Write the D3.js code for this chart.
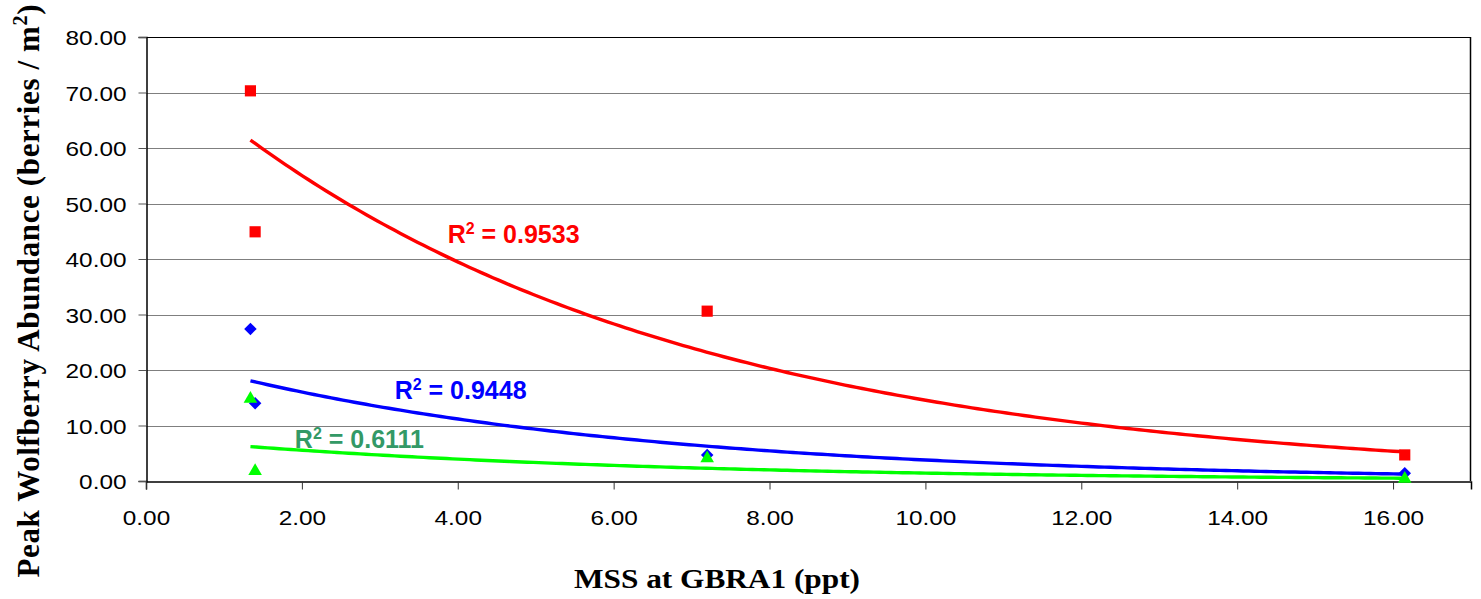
<!DOCTYPE html>
<html>
<head>
<meta charset="utf-8">
<script src="https://cdn.jsdelivr.net/npm/d3@7"></script>
<style>
  body { margin: 0; background: #fff; }
  .tick text { font-family: "Liberation Sans", Arial, sans-serif; font-size: 21px; fill: #000; }
</style>
</head>
<body>
<div id="chart"></div>
<script>
// MSS (ppt) at each station, and peak wolfberry abundance per series
var mss = [1.34, 1.40, 7.20, 16.15];
var redValues = [70.3, 44.9, 30.6, 4.7];
var blueValues = [27.4, 14.0, 4.7, 1.4];
var greenValues = [14.8, 1.8, 4.1, 0.4];
var r2Labels = ["0.9533", "0.9448", "0.6111"];
var xTicks = [0, 2, 4, 6, 8, 10, 12, 14, 16];
var yTicks = [0, 10, 20, 30, 40, 50, 60, 70, 80];

function drawChart(){
    var width = 1481,
        height = 599;
    var margin = {left: 146, right: 10, top: 37, bottom: 118};
    var stretch = 1.16; // text in the original is drawn a bit wide

    var svg = d3.select("#chart").append("svg")
        .attr("width", width)
        .attr("height", height);

    var x = d3.scaleLinear().domain([0, 17]).range([margin.left, width - margin.right]);
    var y = d3.scaleLinear().domain([0, 80]).range([height - margin.bottom, margin.top]);

    // gridlines
    svg.append("g")
        .selectAll("line")
        .data(yTicks.slice(1))
        .enter().append("line")
        .attr("x1", x(0)).attr("x2", x(17))
        .attr("y1", function(d){ return Math.round(y(d)) + 0.5; })
        .attr("y2", function(d){ return Math.round(y(d)) + 0.5; })
        .style("stroke", function(d){ return d == 80 ? "#000" : "#7f7f7f"; })
        .style("stroke-width", 1.2);

    // right border
    svg.append("line")
        .attr("x1", x(17) - 0.5).attr("x2", x(17) - 0.5)
        .attr("y1", y(80)).attr("y2", y(0))
        .style("stroke", "#000").style("stroke-width", 1.5);

    var xAxis = svg.append("g")
        .attr("transform", "translate(0," + (Math.round(y(0)) + 0.5) + ")")
        .call(d3.axisBottom(x).tickValues(xTicks).tickFormat(d3.format(".2f")).tickSizeOuter(0).tickSize(8).tickPadding(21));
    xAxis.select(".domain").style("stroke", "#000").style("stroke-width", 1.5);
    xAxis.selectAll(".tick line").style("stroke", "#333");
    xAxis.selectAll(".tick text").attr("transform", "scale(" + stretch + ",1)");

    var yAxis = svg.append("g")
        .attr("transform", "translate(" + (Math.round(x(0)) + 0.5) + ",0)")
        .call(d3.axisLeft(y).tickValues(yTicks).tickFormat(d3.format(".2f")).tickSizeOuter(0).tickSize(8));
    yAxis.select(".domain").style("stroke", "#000").style("stroke-width", 1.5);
    yAxis.selectAll(".tick line").style("stroke", "#555");
    yAxis.selectAll(".tick text")
        .attr("x", -20 / stretch)
        .attr("dy", "0.36em")
        .attr("transform", "scale(" + stretch + ",1)");

    // exponential trendline fit (least squares on ln y), like Excel
    function expFit(xs, ys){
        var ly = ys.map(Math.log);
        var mx = d3.mean(xs), my = d3.mean(ly);
        var sxy = 0, sxx = 0;
        xs.forEach(function(v, i){ sxy += (v - mx) * (ly[i] - my); sxx += (v - mx) * (v - mx); });
        var b = sxy / sxx;
        var a = Math.exp(my - b * mx);
        return function(t){ return a * Math.exp(b * t); };
    }

    var diamond = {
        draw: function(ctx, size){
            var r = Math.sqrt(size / 2);
            ctx.moveTo(0, -r); ctx.lineTo(r, 0); ctx.lineTo(0, r); ctx.lineTo(-r, 0); ctx.closePath();
        }
    };

    var series = [
        {values: redValues, color: "#ff0000", labelColor: "#ff0000", symbol: d3.symbolSquare, size: 125, label: r2Labels[0], lx: 3.87, ly: 42.9},
        {values: blueValues, color: "#0000ff", labelColor: "#0000ff", symbol: diamond, size: 78, label: r2Labels[1], lx: 3.19, ly: 14.8},
        {values: greenValues, color: "#00ff00", labelColor: "#339966", symbol: d3.symbolTriangle, size: 80, label: r2Labels[2], lx: 1.91, ly: 5.95}
    ];

    var line = d3.line()
        .x(function(d){ return x(d[0]); })
        .y(function(d){ return y(d[1]); });

    series.forEach(function(s){
        var f = expFit(mss, s.values);
        var x0 = d3.min(mss), x1 = d3.max(mss);
        var pts = d3.range(0, 201).map(function(i){
            var t = x0 + (x1 - x0) * i / 200;
            return [t, f(t)];
        });
        svg.append("path")
            .datum(pts)
            .attr("d", line)
            .attr("fill", "none")
            .style("stroke", s.color)
            .style("stroke-width", 3.4);
    });

    series.forEach(function(s){
        svg.append("g")
            .selectAll("path")
            .data(s.values)
            .enter().append("path")
            .attr("d", d3.symbol().type(s.symbol).size(s.size))
            .attr("transform", function(d, i){ return "translate(" + x(mss[i]) + "," + y(d) + ")"; })
            .attr("fill", s.color);
    });

    // R^2 labels
    series.forEach(function(s){
        var t = svg.append("text")
            .attr("x", x(s.lx)).attr("y", y(s.ly))
            .style("font-family", "'Liberation Sans', Arial, sans-serif")
            .style("font-weight", "bold")
            .style("font-size", "25px")
            .attr("fill", s.labelColor);
        t.append("tspan").text("R");
        t.append("tspan").text("2").attr("dy", -9).style("font-size", "16px");
        t.append("tspan").text(" = " + s.label).attr("dy", 9);
    });

    // axis titles
    svg.append("text")
        .attr("transform", "translate(717,588) scale(" + stretch + ",1)")
        .attr("text-anchor", "middle")
        .style("font-family", "'Liberation Serif', 'Times New Roman', serif")
        .style("font-weight", "bold")
        .style("font-size", "27px")
        .text("MSS at GBRA1 (ppt)");

    var yt = svg.append("text")
        .attr("transform", "translate(39,291) rotate(-90)")
        .attr("text-anchor", "middle")
        .attr("textLength", 573)
        .attr("lengthAdjust", "spacing")
        .style("font-family", "'Liberation Serif', 'Times New Roman', serif")
        .style("font-weight", "bold")
        .style("font-size", "31px");
    yt.append("tspan").text("Peak Wolfberry Abundance (berries / m");
    yt.append("tspan").text("2").attr("dy", -12).style("font-size", "20px");
    yt.append("tspan").text(")").attr("dy", 12);
}
drawChart();
</script>
</body>
</html>
